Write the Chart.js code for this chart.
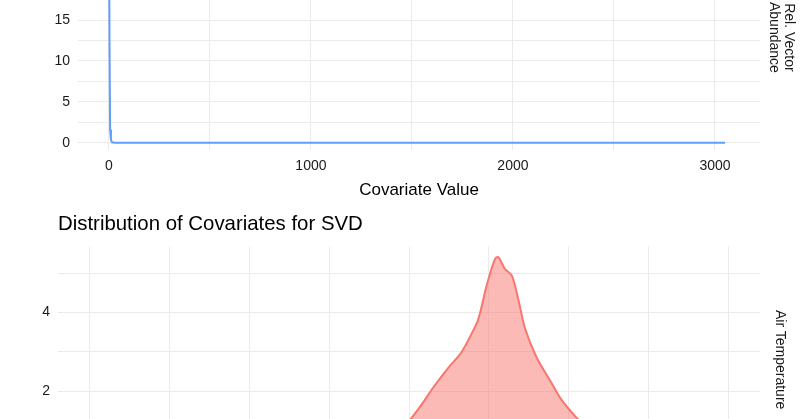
<!DOCTYPE html>
<html><head><meta charset="utf-8">
<script src="https://cdn.jsdelivr.net/npm/chart.js@4"></script>
<style>
body{margin:0;width:800px;height:419px;overflow:hidden;position:relative;background:#fff;font-family:"Liberation Sans",Arial,sans-serif}
canvas{position:absolute;left:0}
.strip{position:absolute;transform:rotate(90deg);transform-origin:left top;font-size:14px;color:#1a1a1a;line-height:15px;white-space:nowrap;text-align:center}
#title{position:absolute;left:58px;top:212px;font-size:20.4px;color:#000}
</style></head><body>
<canvas id="top"></canvas>
<canvas id="bottom"></canvas>
<div class="strip" style="left:797px;top:2px">Rel. Vector<br>Abundance</div>
<div id="title">Distribution of Covariates for SVD</div>
<div class="strip" style="left:788px;top:310px">Air Temperature</div>
<script>
// top panel: relative vector abundance vs covariate value
const abundX = [0, 3, 6, 10, 15, 30, 500, 1000, 1500, 2000, 2500, 3050];
const abundY = [30, 12, 1.6, 0.4, 0.05, 0, 0, 0, 0, 0, 0, 0];
const topXTicks = [0, 1000, 2000, 3000];
const topXGrid = [0, 500, 1000, 1500, 2000, 2500, 3000];
const topYTicks = [0, 5, 10, 15];
const topYGrid = [0, 2.5, 5, 7.5, 10, 12.5, 15, 17.5];

// bottom panel: air temperature density
const tempX = [15, 17, 18.5, 19.5, 20.17, 20.9, 21.52, 22.46, 23.3, 24.25, 24.45, 24.87, 25.39, 25.6, 26.02, 26.44, 26.86, 27.27, 28.0, 28.84, 29.57, 30.51, 31.3, 32.5, 34, 36];
const tempY = [0, 0.15, 0.5, 1.0, 1.33, 1.73, 2.1, 2.6, 3.0, 3.73, 3.98, 4.69, 5.36, 5.4, 5.1, 4.94, 4.32, 3.6, 2.86, 2.28, 1.78, 1.33, 1.0, 0.5, 0.15, 0];
const bottomXGrid = [0, 5, 10, 15, 20, 25, 30, 35, 40];
const bottomYTicks = [2, 4];
const bottomYGrid = [0, 1, 2, 3, 4, 5];

const grid = {color: '#EBEBEB', lineWidth: 1, drawTicks: false};
const tickFont = {family: '"Liberation Sans", Arial', size: 14};
const setTicks = vals => s => { s.ticks = vals.map(v => ({value: v})); };

function setupCanvas(id, top, h){
  const c = document.getElementById(id);
  c.style.top = top + 'px';
  c.style.width = '800px'; c.style.height = h + 'px';
  c.width = 800; c.height = h;
  return c;
}

// top chart
const c1 = setupCanvas('top', -29, 234);
new Chart(c1, {
  type: 'line',
  data: {datasets: [{
    data: abundX.map((x, i) => ({x, y: abundY[i]})),
    borderColor: '#619CFF', borderWidth: 2, pointRadius: 0, tension: 0
  }]},
  options: {
    responsive: false, animation: false,
    layout: {padding: {left: 0, right: 40, top: 0, bottom: 0}},
    plugins: {legend: {display: false}, tooltip: {enabled: false}},
    scales: {
      x: {type: 'linear', min: -153, max: 3223,
        grid, border: {display: false}, afterBuildTicks: setTicks(topXGrid),
        ticks: {padding: 8, color: '#1a1a1a', font: tickFont, autoSkip: false, maxRotation: 0,
          callback: v => topXTicks.includes(v) ? v : ''},
        title: {display: true, text: 'Covariate Value', color: '#000', font: {family: '"Liberation Sans", Arial', size: 17}, padding: {top: 0}},
        afterFit: s => { s.height = 55; }
      },
      y: {min: -0.9, max: 19,
        grid, border: {display: false}, afterBuildTicks: setTicks(topYGrid),
        ticks: {padding: 8, color: '#1a1a1a', font: tickFont, autoSkip: false,
          callback: v => topYTicks.includes(v) ? v : ''},
        afterFit: s => { s.width = 78; }
      }
    }
  }
});

// bottom chart
const c2 = setupCanvas('bottom', 230, 240);
new Chart(c2, {
  type: 'line',
  data: {datasets: [{
    data: tempX.map((x, i) => ({x, y: tempY[i]})),
    borderColor: '#F8766D', borderWidth: 2, pointRadius: 0, tension: 0.3,
    fill: 'origin', backgroundColor: 'rgba(248,118,109,0.5)'
  }]},
  options: {
    responsive: false, animation: false,
    layout: {padding: {left: 0, right: 40, top: 0, bottom: 0}},
    plugins: {legend: {display: false}, tooltip: {enabled: false}},
    scales: {
      x: {type: 'linear', min: -2, max: 42,
        grid, border: {display: false}, afterBuildTicks: setTicks(bottomXGrid),
        ticks: {display: false},
        afterFit: s => { s.height = 0; }
      },
      y: {min: 0.425, max: 5.675,
        grid, border: {display: false}, afterBuildTicks: setTicks(bottomYGrid),
        ticks: {padding: 8, color: '#1a1a1a', font: tickFont, autoSkip: false,
          callback: v => bottomYTicks.includes(v) ? v : ''},
        afterFit: s => { s.width = 58; }
      }
    }
  }
});
</script>
</body></html>
